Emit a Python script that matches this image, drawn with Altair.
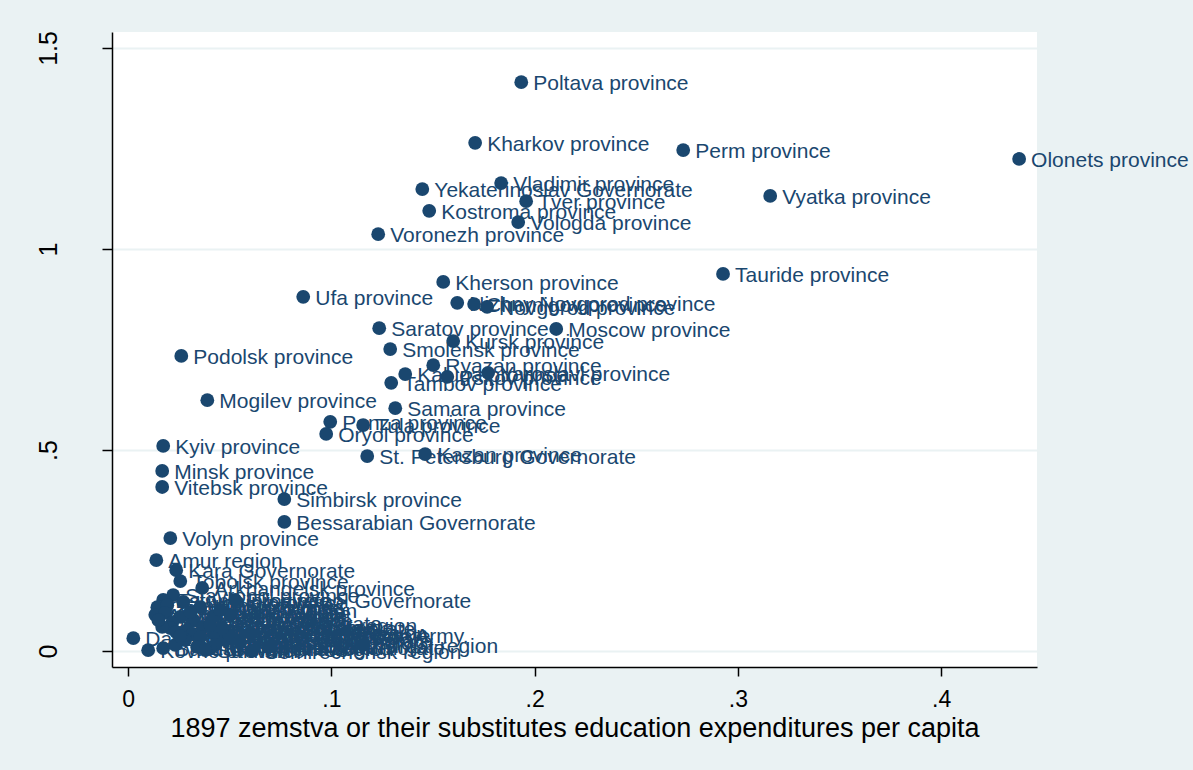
import altair as alt
import pandas as pd

# Provinces / governorates: education spending per capita (x) vs outcome (y)
names = [
    "Poltava province", "Kharkov province", "Perm province", "Olonets province",
    "Vladimir province", "Yekaterinoslav Governorate", "Tver province", "Vyatka province",
    "Kostroma province", "Vologda province", "Voronezh province", "Tauride province",
    "Kherson province", "Ufa province", "Nizhny Novgorod province", "Chernigov province",
    "Novgorod province", "Saratov province", "Moscow province", "Kursk province",
    "Smolensk province", "Podolsk province", "Ryazan province", "Kaluga province",
    "Pskov province", "Yaroslavl province", "Tambov province", "Mogilev province",
    "Samara province", "Penza province", "Tula province", "Oryol province",
    "Kyiv province", "St. Petersburg Governorate", "Kazan province", "Minsk province",
    "Vitebsk province", "Simbirsk province", "Bessarabian Governorate", "Volyn province",
    "Amur region", "Kara Governorate", "Tobolsk province",
    "Arkhangelsk province", "Stavropol province", "Elisavetpol Governorate", "Estonia province",
    "Livonia province", "Courland province", "Grodno province", "Vilna province",
    "Astrakhan province", "Orenburg province", "Irkutsk province", "Yenisei province",
    "Warsaw Governorate", "Kielce Governorate", "Lublin Governorate", "Radom Governorate",
    "Plock Governorate", "Siedlce Governorate", "Kalisz Governorate", "Lomza Governorate",
    "Piotrkow Governorate", "Suwalki Governorate", "Primorsky Region", "Region of the Don Army.",
    "Kutais Governorate", "Dagestan region", "Kovno province", "Baku Governorate",
    "Erivan Governorate", "Semirechensk region", "Turgai region", "Tiflis Governorate",
    "Yakutsk region", "Transbaikal region", "Akmolinsk region", "Semipalatinsk region",
    "Ural region", "Syr-Darya region", "Fergana region", "Samarkand region",
    "Transcaspian region", "Black Sea Governorate", "Terek region", "Kuban region",
    "Sakhalin",
]

spending = [
    0.1934, 0.1707, 0.2731, 0.4384,
    0.1835, 0.1447, 0.1958, 0.3159,
    0.1481, 0.1919, 0.1230, 0.2927,
    0.1550, 0.0861, 0.1619, 0.1702,
    0.1766, 0.1235, 0.2106, 0.1599,
    0.1289, 0.0261, 0.1501, 0.1363,
    0.1570, 0.1771, 0.1294, 0.0389,
    0.1314, 0.0994, 0.1156, 0.0974,
    0.0172, 0.1176, 0.1461, 0.0167,
    0.0167, 0.0768, 0.0768, 0.0207,
    0.0138, 0.0236, 0.0256,
    0.0364, 0.0221, 0.0526, 0.0172,
    0.0271, 0.0143, 0.0192, 0.0354,
    0.0133, 0.0182, 0.0320, 0.0256,
    0.0216, 0.0207, 0.0369, 0.0167,
    0.0290, 0.0236, 0.0315, 0.0354,
    0.0428, 0.0477, 0.0600, 0.0497,
    0.0462, 0.0025, 0.0098, 0.0172,
    0.0339, 0.0610, 0.1156, 0.0689,
    0.0428, 0.0551, 0.0280, 0.0403,
    0.0502, 0.0148, 0.0305, 0.0403,
    0.0231, 0.0256, 0.0423, 0.0453,
    0.0379,
]

outcome = [
    1.415, 1.264, 1.246, 1.224,
    1.164, 1.149, 1.119, 1.132,
    1.095, 1.067, 1.037, 0.938,
    0.918, 0.881, 0.866, 0.863,
    0.856, 0.803, 0.801, 0.771,
    0.751, 0.734, 0.711, 0.689,
    0.682, 0.692, 0.667, 0.624,
    0.604, 0.570, 0.562, 0.540,
    0.510, 0.485, 0.490, 0.448,
    0.408, 0.378, 0.321, 0.281,
    0.226, 0.201, 0.174,
    0.157, 0.139, 0.127, 0.127,
    0.122, 0.109, 0.114, 0.109,
    0.090, 0.095, 0.077, 0.085,
    0.070, 0.057, 0.060, 0.060,
    0.052, 0.047, 0.042, 0.035,
    0.040, 0.027, 0.045, 0.040,
    0.057, 0.032, 0.002, 0.007,
    0.010, 0.000, 0.015, 0.010,
    0.015, 0.022, 0.027, 0.065,
    0.090, 0.077, 0.097, 0.007,
    0.015, 0.037, 0.087, 0.102,
    0.002,
]

df = pd.DataFrame({"name": names, "x": spending, "y": outcome})

NAVY = "#1A476F"
FONT = "Liberation Sans"

x_enc = alt.X(
    "x:Q",
    scale=alt.Scale(domain=[-0.008, 0.4472], nice=False, zero=False),
    axis=alt.Axis(
        values=[0, 0.1, 0.2, 0.3, 0.4],
        labelExpr="replace(toString(datum.value), '0.', '.')",
        title="1897 zemstva or their substitutes education expenditures per capita",
        grid=False,
        tickSize=9,
        labelPadding=12,
        labelFontSize=23,
        titlePadding=4,
    ),
)
y_enc = alt.Y(
    "y:Q",
    scale=alt.Scale(domain=[-0.0398, 1.5398], nice=False, zero=False),
    axis=alt.Axis(
        values=[0, 0.5, 1, 1.5],
        labelExpr="datum.value == 0.5 ? '.5' : toString(datum.value)",
        title="",
        grid=True,
        gridColor="#EAF2F3",
        gridWidth=2,
        tickSize=10,
        labelAngle=270,
        labelAlign="center",
        labelBaseline="bottom",
        labelPadding=41,
        labelFontSize=25,
    ),
)

points = alt.Chart(df).mark_circle(size=190, color=NAVY, opacity=1).encode(x=x_enc, y=y_enc)
labels = alt.Chart(df).mark_text(
    align="left", baseline="middle", dx=12, dy=2, fontSize=21, font=FONT, color=NAVY
).encode(x="x:Q", y="y:Q", text="name:N")

chart = (
    alt.layer(points, labels)
    .properties(
        width=925,
        height=635,
        autosize="none",
        padding={"left": 112, "top": 32, "right": 156, "bottom": 103},
        background="#EAF2F3",
    )
    .configure_view(fill="white", stroke=None)
    .configure_axis(
        domainColor="black",
        domainWidth=1.5,
        tickColor="black",
        tickWidth=1.5,
        labelFont=FONT,
        labelColor="black",
        titleFont=FONT,
        titleFontSize=27,
        titleFontWeight="normal",
        titleColor="black",
    )
)

chart.save("out.html", embed_options={"renderer": "svg", "actions": False})
